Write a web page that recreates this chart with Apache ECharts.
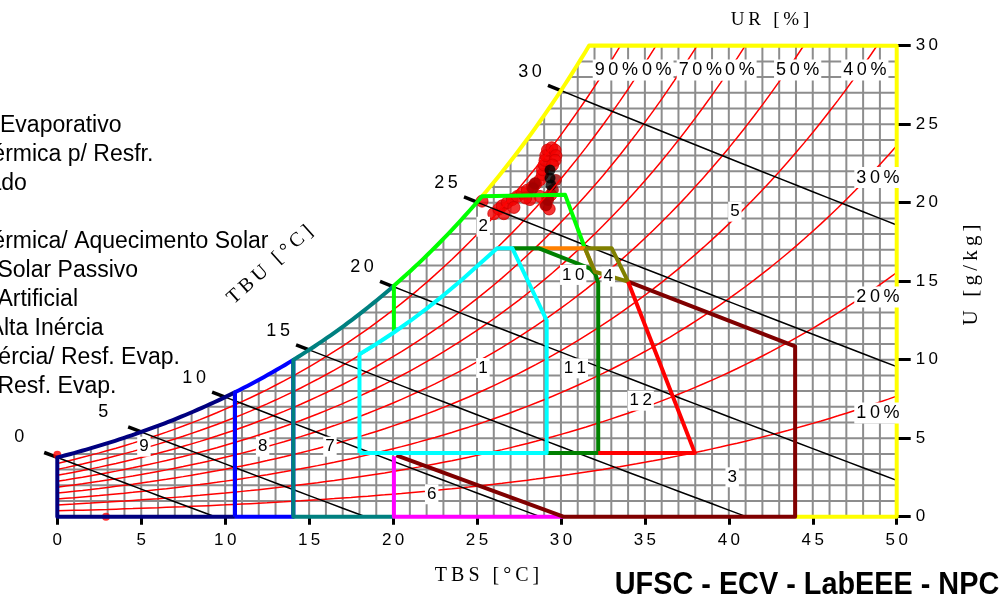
<!DOCTYPE html>
<html>
<head>
<meta charset="utf-8">
<script src="https://cdn.jsdelivr.net/npm/echarts@6/dist/echarts.min.js"></script>
<style>
  html, body { margin: 0; padding: 0; background: #fff; }
  #chart { width: 1008px; height: 598px; }
</style>
</head>
<body>
<div id="chart"></div>
<script>
// ---------- data ----------
const rhLevels = [10, 20, 30, 40, 50, 60, 70, 80, 90]
const rhLabelPos = [[48.88, 6.6], [48.88, 14.0], [48.88, 21.6], [48.1, 28.45], [44.1, 28.45],
  [40.25, 28.45], [38.3, 28.45], [35.3, 28.45], [33.3, 28.45]]
const tbuLevels = [0, 5, 10, 15, 20, 25, 30]

const legendLines = [
  '1- Conforto',
  '2- Ventilação',
  '3- Resfriamento Evaporativo',
  '4- Alta Inércia Térmica p/ Resfr.',
  '5- Ar Condicionado',
  '6- Umidificação',
  '7- Alta Inércia Térmica/ Aquecimento Solar',
  '8- Aquecimento Solar Passivo',
  '9- Aquecimento Artificial',
  '10- Ventilação/ Alta Inércia',
  '11- Vent./ Alta Inércia/ Resf. Evap.',
  '12- Alta Inércia/ Resf. Evap.'
]

// zone number label positions [TBS, U]
const zoneLabelText = ['1', '2', '3', '4', '5', '6', '7', '8', '9', '10', '11', '12']
const zoneLabelPos = [[25.35, 9.47], [25.37, 18.47], [40.2, 2.51], [32.82, 15.29], [40.36, 19.43],
  [22.3, 1.43], [16.24, 4.46], [12.23, 4.46], [5.16, 4.46], [30.73, 15.4], [30.83, 9.45], [34.75, 7.39]]

// zone outlines, [TBS, U]; U = null means "on the saturation curve"
const zone5 = [[25.3, null], [31.68, null], [50, 30], [50, 0], [43.95, 0]]
const zone9 = [[10.58, 0], [0, 0], [0, null], [10.58, null], [10.58, 0]]
const zone8 = [[10.58, 0], [10.58, null], [14.06, null], [14.06, 0], [10.58, 0]]
const zone7 = [[20.05, null], [14.06, null], [14.06, 0], [20.05, 0]]
const zone6 = [[20.05, 3.85], [20.05, 0], [30.14, 0]]
const zone3 = [[20.2, 3.9], [30.14, 0], [43.95, 0], [43.95, 10.85], [34.0, 14.97]]
const zone2 = [[20.05, 11.75], [20.05, null], [25.3, null], [30.25, 20.5], [31.43, 17.1]]
const zone11 = [[27.1, 17.1], [28.66, 17.1], [31.75, 15.8], [32.05, 15.45], [32.22, 14.9], [32.22, 4.05], [29.15, 4.05]]
const zone10 = [[28.66, 17.1], [31.43, 17.1], [32.0, 15.6]]
const zone1 = [[18, 4.05], [18, 10.35], [19, 11.0], [20, 11.7], [21, 12.45], [22, 13.25], [23, 14.1],
  [24, 15.0], [25, 15.95], [26.2, 17.1], [27.1, 17.1], [29.15, 12.5], [29.15, 4.05], [18, 4.05]]
const zone4 = [[31.43, 17.1], [33.02, 17.1], [34.0, 14.97], [32.02, 15.6], [31.43, 17.1]]
const zone12 = [[32.22, 4.05], [37.98, 4.05], [34.0, 14.97]]

// climate data points
const climaRed = [[26.0, 19.3], [26.3, 19.6], [26.5, 19.8], [26.8, 20.0], [27.1, 20.2], [27.4, 20.4],
  [27.7, 20.6], [28.0, 20.8], [28.3, 21.0], [28.5, 21.2], [28.75, 21.45], [28.9, 21.8], [28.9, 22.1],
  [29.0, 22.4], [29.05, 22.7], [29.1, 23.0], [29.2, 23.35], [29.45, 23.5], [29.65, 23.35], [29.7, 23.0],
  [29.65, 22.7], [29.5, 22.4], [29.4, 20.5], [29.2, 20.3], [29.1, 19.85], [28.75, 20.4], [28.15, 20.2],
  [25.3, 20.1], [27.2, 19.7], [26.6, 19.3], [27.9, 20.3], [29.3, 19.6]]
const climaDark = [[28.45, 21.24], [28.33, 20.92], [29.23, 20.17], [29.11, 19.85], [29.7, 21.45], [29.52, 20.81]]
const climaBlack = [[29.35, 22.08], [29.35, 21.57], [29.4, 21.12]]
const climaStray = [[0, 3.95], [2.9, 0]]

// ---------- psychrometrics ----------
const P = 101.325
const psat = t => 0.61094 * Math.exp(17.625 * t / (t + 243.04))
const wRH = (t, rh) => { const pv = rh / 100 * psat(t); return 622 * pv / (P - pv) }
const wSat = t => wRH(t, 100)
const tDew = w => { const pv = P * w / (622 + w); const a = Math.log(pv / 0.61094); return 243.04 * a / (17.625 - a) }
const wWB = (t, twb) => {
  const ws = wSat(twb) / 1000
  return 1000 * ((2501 - 2.326 * twb) * ws - 1.006 * (t - twb)) / (2501 + 1.86 * t - 4.186 * twb)
}

const buildPath = verts => {
  const out = []
  for (let i = 0; i < verts.length; i++) {
    const [t, w] = verts[i]
    if (w === null && i > 0 && verts[i - 1][1] === null) {
      const t0 = verts[i - 1][0]
      const n = Math.max(2, Math.ceil(Math.abs(t - t0) / 0.25))
      for (let k = 1; k < n; k++) {
        const tt = t0 + (t - t0) * k / n
        out.push([tt, wSat(tt)])
      }
    }
    out.push([t, w === null ? wSat(t) : w])
  }
  return out
}

const sp = s => String(s).split('').join('\u2009')
const SANS = '"Liberation Sans", Arial, sans-serif'
const SERIF = '"Liberation Serif", "Times New Roman", serif'

// grid lines only below saturation
const gridLines = []
for (let t = 1; t <= 50; t++) gridLines.push([t, 0, t, Math.min(30, wSat(t))])
for (let w = 1; w <= 30; w++) gridLines.push([Math.max(0, tDew(w)), w, 50, w])

const series = []

series.push({
  type: 'custom',
  data: gridLines,
  encode: { x: [0, 2], y: [1, 3] },
  silent: true,
  renderItem: (params, api) => {
    const a = api.coord([api.value(0), api.value(1)])
    const b = api.coord([api.value(2), api.value(3)])
    return {
      type: 'line',
      shape: { x1: a[0], y1: a[1], x2: b[0], y2: b[1] },
      style: { stroke: '#8d8d8d', lineWidth: 2 }
    }
  }
})

// relative humidity curves
rhLevels.forEach(rh => {
  const pts = []
  for (let t = 0; t <= 50; t += 0.5) {
    const w = wRH(t, rh)
    pts.push([t, w])
    if (w > 30) break
  }
  series.push({
    type: 'line', data: pts, symbol: 'none', silent: true,
    lineStyle: { color: '#ff0000', width: 1.5 }
  })
})

// wet bulb lines
tbuLevels.forEach(twb => {
  const pts = []
  for (let t = twb; t <= 50.001; t += 1) {
    const w = wWB(t, twb)
    pts.push([t, w])
    if (w < 0) break
  }
  series.push({
    type: 'line', data: pts, symbol: 'none', silent: true,
    lineStyle: { color: '#000', width: 1.5 }
  })
})

series.push({
  type: 'custom',
  data: tbuLevels.map(t => [t, wSat(t)]),
  encode: { x: 0, y: 1 },
  silent: true,
  renderItem: (params, api) => {
    const twb = api.value(0)
    const p0 = api.coord([twb, wSat(twb)])
    const p1 = api.coord([twb + 2, wWB(twb + 2, twb)])
    let dx = p0[0] - p1[0], dy = p0[1] - p1[1]
    const L = Math.hypot(dx, dy); dx /= L; dy /= L
    const lab = String(twb)
    const off = lab.length > 1 ? [-31, -19] : [-38, -20]
    return {
      type: 'group',
      children: [
        { type: 'line', shape: { x1: p0[0], y1: p0[1], x2: p0[0] + dx * 14, y2: p0[1] + dy * 14 },
          style: { stroke: '#000', lineWidth: 3.5 } },
        { type: 'text', x: p0[0] + off[0], y: p0[1] + off[1],
          style: { text: sp(lab), fill: '#000', font: '18px ' + SANS, align: 'center', verticalAlign: 'middle' } }
      ]
    }
  }
})

// climate points
series.push({ type: 'scatter', data: climaStray, symbolSize: 8, itemStyle: { color: '#ff0000' }, silent: true })
series.push({ type: 'scatter', data: climaRed, symbolSize: 12, itemStyle: { color: '#f20000', borderColor: '#d00000', borderWidth: 1 }, silent: true })
series.push({ type: 'scatter', data: climaDark, symbolSize: 12, itemStyle: { color: '#a00000' }, silent: true })
series.push({ type: 'scatter', data: climaBlack, symbolSize: 11, itemStyle: { color: '#000' }, silent: true })

// bioclimatic zones
const zones = [
  [zone5, '#ffff00'], [zone9, '#000080'], [zone8, '#0000ff'], [zone7, '#008080'],
  [zone6, '#ff00ff'], [zone3, '#800000'], [zone2, '#00ff00'], [zone10, '#ff8000'],
  [zone11, '#008000'], [zone1, '#00ffff'], [zone4, '#808000'], [zone12, '#ff0000']
]
zones.forEach(([verts, color]) => {
  series.push({
    type: 'line', data: buildPath(verts), symbol: 'none', clip: false, silent: true,
    lineStyle: { color: color, width: 4, join: 'round' }
  })
})

// boxed text labels (RH curves and zone numbers)
const boxLabels = (items, size) => ({
  type: 'custom', silent: true, z: 10,
  data: items,
  encode: { x: 0, y: 1 },
  renderItem: (params, api) => {
    const p = api.coord([api.value(0), api.value(1)])
    const it = items[params.dataIndex]
    return {
      type: 'text', x: p[0], y: p[1],
      style: {
        text: sp(it[2]), fill: '#000', font: size + 'px ' + SANS,
        align: 'center', verticalAlign: 'middle',
        backgroundColor: '#fff', padding: [2, 2, 1, 2]
      }
    }
  }
})
series.push(boxLabels(rhLevels.map((rh, i) => [rhLabelPos[i][0], rhLabelPos[i][1], rh + '%']), 18))
series.push(boxLabels(zoneLabelText.map((s, i) => [zoneLabelPos[i][0], zoneLabelPos[i][1], s]), 17))

const graphics = legendLines.map((s, i) => ({
  type: 'text', x: -170, y: 75.3 + 29 * i - 8, silent: true,
  style: { text: s, fill: '#000', font: '23px ' + SANS, align: 'left', verticalAlign: 'middle' }
}))
graphics.push(
  { type: 'text', x: 487, y: 576, silent: true,
    style: { text: sp('TBS [°C]'), fill: '#000', font: '20px ' + SERIF, align: 'center', verticalAlign: 'middle' } },
  { type: 'text', x: 770, y: 20, silent: true,
    style: { text: sp('UR [%]'), fill: '#000', font: '19px ' + SERIF, align: 'center', verticalAlign: 'middle' } },
  { type: 'text', x: 971, y: 275, rotation: Math.PI / 2, silent: true,
    style: { text: sp('U [g/kg]'), fill: '#000', font: '21px ' + SERIF, align: 'center', verticalAlign: 'middle' } },
  { type: 'text', x: 270, y: 265, rotation: 0.73, silent: true,
    style: { text: sp('TBU [°C]'), fill: '#000', font: '20px ' + SERIF, align: 'center', verticalAlign: 'middle' } },
  { type: 'text', x: 807, y: 585, scaleX: 0.93, silent: true,
    style: { text: 'UFSC - ECV - LabEEE - NPC', fill: '#000',
      font: 'bold 31px ' + SANS, align: 'center', verticalAlign: 'middle' } }
)

const chart = echarts.init(document.getElementById('chart'))
chart.setOption({
  animation: false,
  backgroundColor: '#fff',
  textStyle: { fontFamily: SANS },
  grid: { left: 57.3, right: 111.3, top: 45.7, bottom: 81.3 },
  xAxis: {
    type: 'value', min: 0, max: 50, interval: 5,
    axisLine: { show: false, onZero: false },
    axisTick: { show: true, length: 8, lineStyle: { color: '#000', width: 3 } },
    axisLabel: { margin: 15, fontSize: 17, color: '#000', formatter: v => sp(v) },
    splitLine: { show: false }
  },
  yAxis: {
    type: 'value', position: 'right', min: 0, max: 30, interval: 5,
    axisLine: { show: false, onZero: false },
    axisTick: { show: true, length: 14, lineStyle: { color: '#000', width: 3 } },
    axisLabel: { margin: 19, fontSize: 17, color: '#000', formatter: v => sp(v) },
    splitLine: { show: false }
  },
  graphic: graphics,
  series: series
})
</script>
</body>
</html>
